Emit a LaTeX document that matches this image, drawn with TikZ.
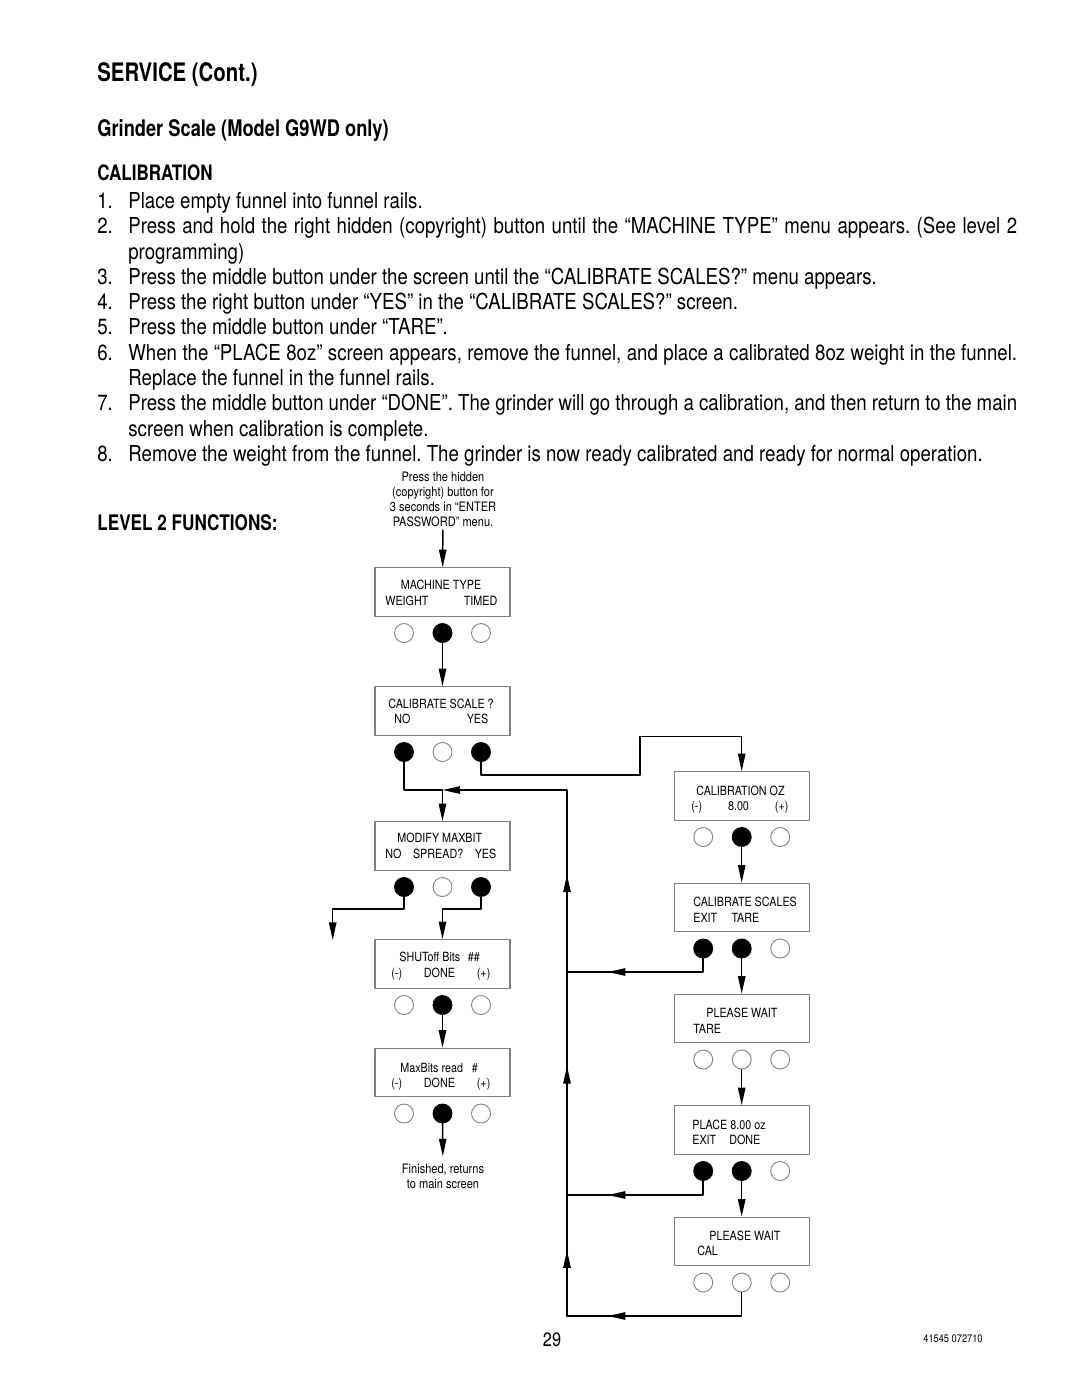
\documentclass[tikz,border=0pt]{standalone}
\usepackage{fontspec}
\setmainfont{TeX Gyre Heros}[FakeStretch=0.85, BoldFeatures={FakeStretch=0.8}]
\usetikzlibrary{arrows.meta,decorations.markings}
\frenchspacing

\tikzset{
  screen/.style={draw=black!50, line width=0.6pt, minimum width=2.7cm, minimum height=0.97cm, inner sep=0pt},
  btn/.style={circle, draw=black!50, line width=0.5pt, minimum size=0.38cm, inner sep=0pt},
  hit/.style={btn, draw=black, fill=black},
  lcd/.style={font=\fontsize{7.2}{9}\selectfont, inner sep=0pt, anchor=base west},
  note/.style={font=\fontsize{7.4}{8.5}\selectfont, align=center, inner sep=2pt},
  wire/.style={line width=0.85pt},
  flow/.style={wire, -{Triangle[length=10pt,width=4.2pt]}},
  midarrow/.style={postaction={decorate}, decoration={markings,
      mark=at position #1 with {\arrow{Triangle[length=10pt,width=4.2pt]}}}},
  backarrows/.style={postaction={decorate}, decoration={markings,
      mark=at position 37.4pt with {\arrow{Triangle[length=10pt,width=4.2pt]}},
      mark=at position 142.3pt with {\arrow{Triangle[length=10pt,width=4.2pt]}},
      mark=at position 251.2pt with {\arrow{Triangle[length=10pt,width=4.2pt]}}}},
}

\begin{document}
\begin{tikzpicture}[x=0.02cm, y=-0.02cm, line cap=round, line join=round]

\path[fill=white, use as bounding box] (0,0) rectangle (1080,1397);

% \keypad{name}{x}{y}{left}{middle}{right}
\newcommand{\keypad}[6]{%
  \node[#4] (#1a) at (#2-38.5,#3+41) {};
  \node[#5] (#1b) at (#2,#3+41) {};
  \node[#6] (#1c) at (#2+38.5,#3+41) {};
}

% headings and steps
\node[anchor=west, inner sep=0pt, font=\bfseries\fontsize{14.5}{16}\selectfont] (title) at (97,75) {SERVICE (Cont.)};
\node[anchor=west, inner sep=0pt, font=\bfseries\fontsize{13}{15}\selectfont] (model) at (97,130) {Grinder Scale (Model G9WD only)};
\node[anchor=west, inner sep=0pt, font=\bfseries\fontsize{12.1}{15}\selectfont] (calhead) at (97,173) {CALIBRATION};
\node[anchor=north west, text width=18.4cm, align=justify, inner sep=0pt,
      font=\fontsize{12.5}{14.4}\selectfont] (steps) at (97,192) {%
\hangindent=0.62cm\hangafter=1\makebox[0.62cm][l]{1.}Place empty funnel into funnel rails.\par
\hangindent=0.62cm\hangafter=1\makebox[0.62cm][l]{2.}Press and hold the right hidden (copyright) button until the “MACHINE TYPE” menu appears. (See level 2\linebreak programming)\par
\hangindent=0.62cm\hangafter=1\makebox[0.62cm][l]{3.}Press the middle button under the screen until the “CALIBRATE SCALES?” menu appears.\par
\hangindent=0.62cm\hangafter=1\makebox[0.62cm][l]{4.}Press the right button under “YES” in the “CALIBRATE SCALES?” screen.\par
\hangindent=0.62cm\hangafter=1\makebox[0.62cm][l]{5.}Press the middle button under “TARE”.\par
\hangindent=0.62cm\hangafter=1\makebox[0.62cm][l]{6.}When the “PLACE 8oz” screen appears, remove the funnel, and place a calibrated 8oz weight in the funnel.\linebreak Replace the funnel in the funnel rails.\par
\hangindent=0.62cm\hangafter=1\makebox[0.62cm][l]{7.}Press the middle button under “DONE”. The grinder will go through a calibration, and then return to the main\linebreak screen when calibration is complete.\par
\hangindent=0.62cm\hangafter=1\makebox[0.62cm][l]{8.}Remove the weight from the funnel. The grinder is now ready calibrated and ready for normal operation.\par};
\node[anchor=west, inner sep=0pt, font=\bfseries\fontsize{12.2}{15}\selectfont] (levelhead) at (97,523) {LEVEL 2 FUNCTIONS:};

% left column screens
\node[note] (hint) at (443,499) {Press the hidden\\(copyright) button for\\3 seconds in “ENTER\\PASSWORD” menu.};

\node[screen] (mt) at (442.5,592) {};
\node[lcd, anchor=base] (mtl1) at (441,589) {MACHINE TYPE};
\node[lcd] (mtl2) at (385,605) {\makebox[2.24cm][s]{WEIGHT\hfill TIMED}};
\keypad{mt}{442.5}{592}{btn}{hit}{btn}

\node[screen] (cs) at (442.5,711) {};
\node[lcd] (csl1) at (388,708) {CALIBRATE SCALE ?};
\node[lcd] (csl2) at (394,723) {\makebox[1.88cm][s]{NO\hfill YES}};
\keypad{cs}{442.5}{711}{hit}{btn}{hit}

\node[screen] (mm) at (442.5,846) {};
\node[lcd] (mml1) at (397,842) {MODIFY MAXBIT};
\node[lcd] (mml2) at (385,858) {\makebox[2.22cm][s]{NO\hfill SPREAD?\hfill YES}};
\keypad{mm}{442.5}{846}{hit}{btn}{hit}

\node[screen] (sb) at (442.5,964) {};
\node[lcd] (sbl1) at (399,961) {SHUToff Bits\hspace{0.15cm}\#\#};
\node[lcd] (sbl2) at (391,977) {\makebox[1.98cm][s]{(-)\hfill DONE\hfill (+)}};
\keypad{sb}{442.5}{964}{btn}{hit}{btn}

\node[screen] (mr) at (442.5,1072.5) {};
\node[lcd] (mrl1) at (400,1072) {MaxBits read\hspace{0.18cm}\#};
\node[lcd] (mrl2) at (391,1087) {\makebox[1.98cm][s]{(-)\hfill DONE\hfill (+)}};
\keypad{mr}{442.5}{1072.5}{btn}{hit}{btn}

\node[note, inner sep=4pt] (done) at (443,1176) {Finished, returns\\to main screen};

% right column screens
\node[screen] (co) at (741.7,796) {};
\node[lcd] (col1) at (696,795) {CALIBRATION OZ};
\node[lcd] (col2) at (691,810) {\makebox[1.94cm][s]{(-)\hfill 8.00\hfill (+)}};
\keypad{co}{741.7}{796}{btn}{hit}{btn}

\node[screen] (cz) at (741.7,907.5) {};
\node[lcd] (czl1) at (693,906) {CALIBRATE SCALES};
\node[lcd] (czl2) at (693,922) {\makebox[1.32cm][s]{EXIT\hfill TARE}};
\keypad{cz}{741.7}{907.5}{hit}{hit}{btn}

\node[screen] (pt) at (741.7,1018.5) {};
\node[lcd] (ptl1) at (706,1017) {PLEASE WAIT};
\node[lcd] (ptl2) at (693,1033) {TARE};
\keypad{pt}{741.7}{1018.5}{btn}{btn}{btn}

\node[screen] (pl) at (741.7,1130) {};
\node[lcd] (pll1) at (692,1129) {PLACE 8.00 oz};
\node[lcd] (pll2) at (692,1144) {\makebox[1.36cm][s]{EXIT\hfill DONE}};
\keypad{pl}{741.7}{1130}{hit}{hit}{btn}

\node[screen] (pc) at (741.7,1241.5) {};
\node[lcd] (pcl1) at (709,1240) {PLEASE WAIT};
\node[lcd] (pcl2) at (697,1255) {CAL};
\keypad{pc}{741.7}{1241.5}{btn}{btn}{btn}

% bends of the connectors
\coordinate (join) at (442.5,790);
\coordinate (yesup) at (640,775);
\coordinate (yesover) at (640,736.7);
\coordinate (nobend) at (332.7,909);
\coordinate (noexit) at (332.7,940);
\coordinate (spread) at (442.5,909);
\coordinate (back1) at (567,972);
\coordinate (back2) at (567,1195);
\coordinate (back3) at (567,1316);

% connectors
\draw[flow] (hint) -- (mt);
\draw[flow] (mtb) -- (cs);
\draw[wire] (csa) |- (join);
\draw[flow] (join) -- (mm);
\draw[flow] (csc) |- (yesup) -- (yesover) -| (co);
\draw[flow] (mma) |- (nobend) -- (noexit);
\draw[flow] (mmc) |- (spread) -- (sb);
\draw[flow] (sbb) -- (mr);
\draw[flow] (mrb) -- (done);

\draw[flow] (cob) -- (cz);
\draw[flow] (czb) -- (pt);
\draw[flow] (ptb) -- (pl);
\draw[flow] (plb) -- (pc);
\draw[wire, midarrow=-23.2pt] (cza) |- (back1);
\draw[wire, midarrow=-23.2pt] (pla) |- (back2);
\draw[wire, midarrow=-23.2pt] (pcb) |- (back3);
\draw[flow, backarrows] (back3) |- (join);

% footer
\node[font=\fontsize{11}{13}\selectfont, inner sep=0pt] (pageno) at (552,1340) {29};
\node[font=\fontsize{6.2}{7}\selectfont, inner sep=0pt] (docno) at (953,1339) {41545 072710};

\end{tikzpicture}
\end{document}
